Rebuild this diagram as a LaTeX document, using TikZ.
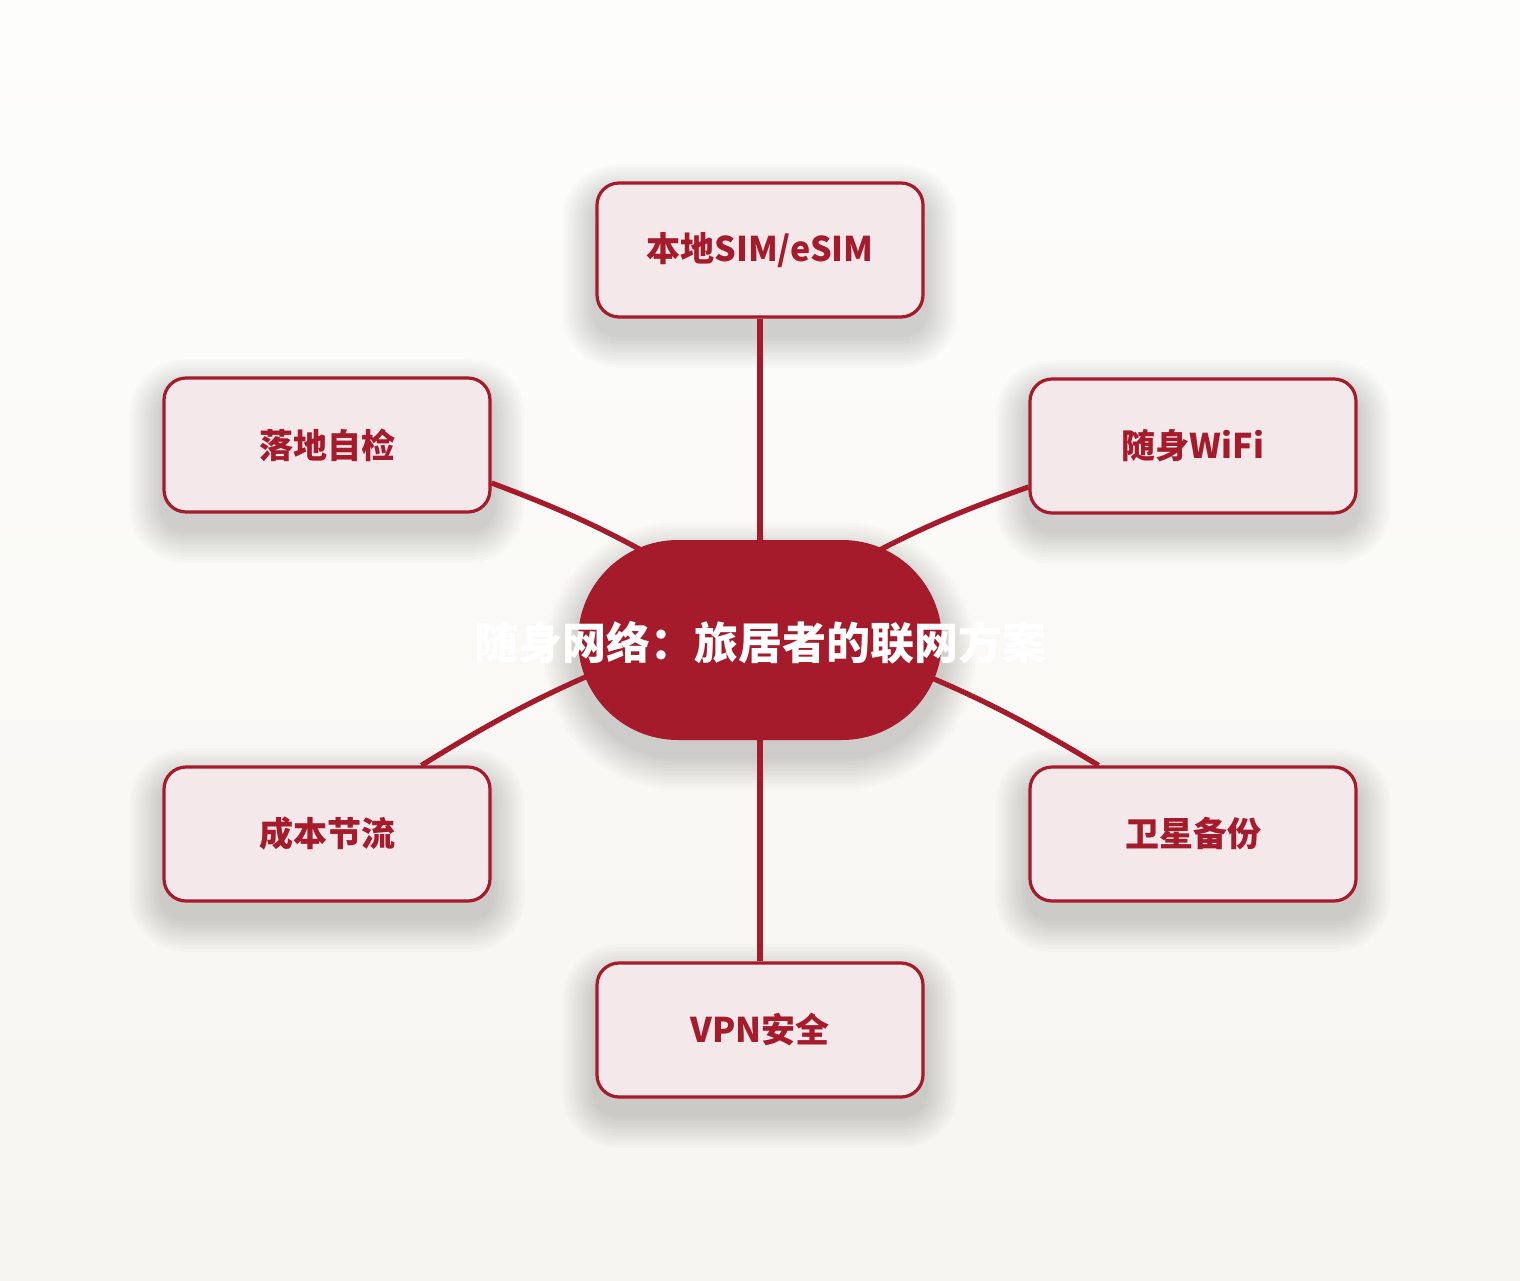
\documentclass[tikz,border=0pt]{standalone}
\usepackage{fontspec}
\setmainfont{Noto Sans CJK SC}
\usepackage{xcolor}
\usepackage{tikz}
\usetikzlibrary{calc}
\definecolor{wine}{HTML}{A51B2B}
\definecolor{blush}{HTML}{F5E8EB}
\definecolor{paperTop}{HTML}{FDFDFC}
\definecolor{paperBot}{HTML}{F7F5F1}
\pgfdeclarelayer{bg}
\pgfdeclarelayer{shade}
\pgfsetlayers{bg,shade,main}

\begin{document}
\begin{tikzpicture}[x=0.5pt,y=-0.5pt,
  branch/.style={draw=wine,line width=1.6pt,fill=blush,rounded corners=11pt,
    minimum width=163pt,minimum height=67pt,text=wine,
    font=\fontsize{17pt}{20pt}\selectfont\bfseries},
  hub/.style={fill=wine,rounded corners=50pt,minimum width=182pt,minimum height=100pt},
  hubtext/.style={text=white,font=\fontsize{22pt}{26pt}\selectfont\bfseries},
  link/.style={draw=wine,line width=2.6pt},
  softshade/.style={fill=black,opacity=.016}]
%背景
\begin{pgfonlayer}{bg}
\shade[top color=paperTop,bottom color=paperBot] (0,0) rectangle (1520,1280);
\end{pgfonlayer}
\useasboundingbox (0,0) rectangle (1520,1280);
%中心
\node[hub] (c) at (760,640) {};
%分支
\node[branch] (t) at (760,250) {本地SIM/eSIM};
\node[branch] (ul) at (327,445) {落地自检};
\node[branch] (ur) at (1193,446) {随身WiFi};
\node[branch] (ll) at (327,834) {成本节流};
\node[branch] (lr) at (1193,834) {卫星备份};
\node[branch] (b) at (760,1030) {VPN安全};
%阴影
\begin{pgfonlayer}{shade}
\foreach \n in {t,ul,ur,ll,lr,b}
  \foreach \k in {1,...,11}
    \fill[softshade,rounded corners={11pt+1.5pt*\k}]
      ($(\n.south west)+(-3*\k,3*\k+16)$) rectangle ($(\n.north east)+(3*\k,-3*\k+16)$);
\foreach \k in {1,...,11}
  \fill[softshade,rounded corners={50pt+1.5pt*\k}]
    ($(c.south west)+(-3*\k,3*\k+16)$) rectangle ($(c.north east)+(3*\k,-3*\k+16)$);
\end{pgfonlayer}
%连线
\draw[link] (t.south) -- (c.center);
\draw[link] (b.north) -- (c.center);
\draw[link] (ul.-13) to[bend left=5] ($(c.center)+(-70,-62)$);
\draw[link] (ur.194) to[bend right=5] ($(c.center)+(70,-63)$);
\draw[link] (ll.36) to[bend left=5] ($(c.center)+(-110,10)$);
\draw[link] (lr.144) to[bend right=5] ($(c.center)+(110,13)$);
%标题
\node[hubtext] (ctext) at (760,643) {随身网络：旅居者的联网方案};
\end{tikzpicture}
\end{document}
